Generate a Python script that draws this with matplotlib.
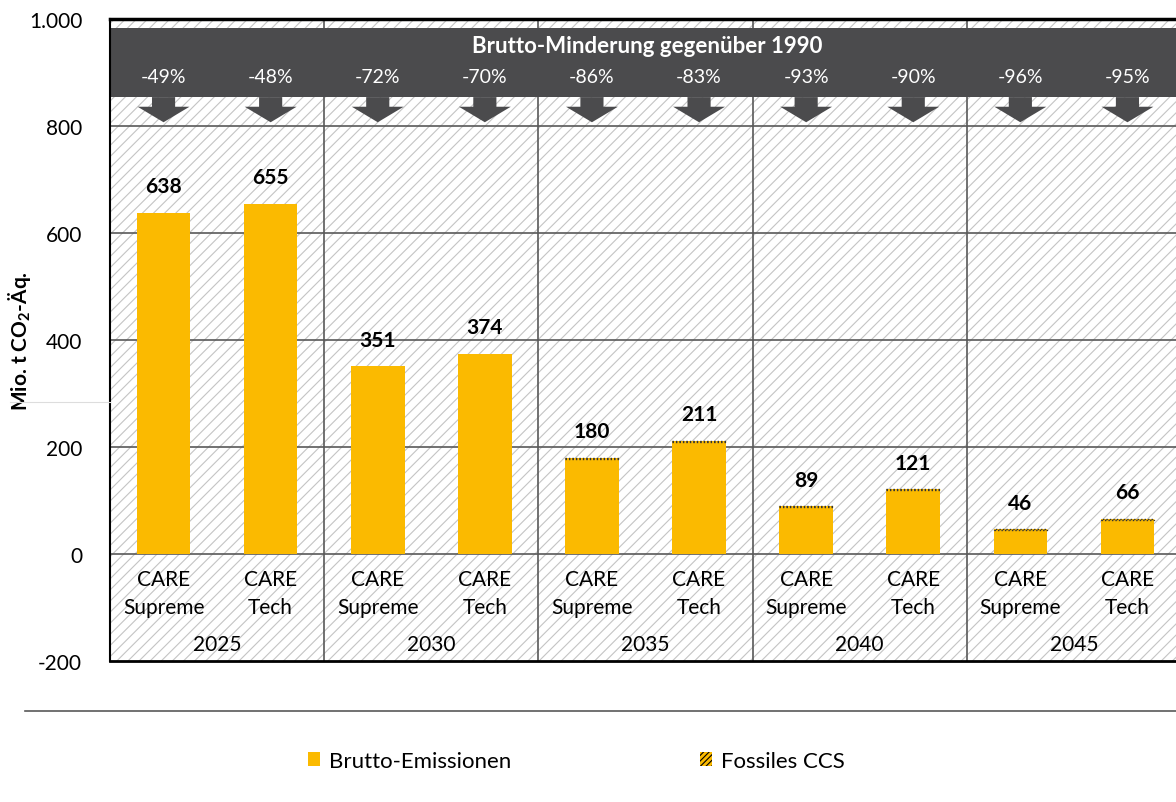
import matplotlib.pyplot as plt
from matplotlib.patches import Rectangle, Polygon, Patch
from matplotlib.lines import Line2D

plt.rcParams['font.family'] = ['Lato', 'DejaVu Sans']
plt.rcParams['hatch.linewidth'] = 0.8

# Daten
years = ["2025", "2030", "2035", "2040", "2045"]
scenarios = ["CARE\nSupreme", "CARE\nTech"]
brutto_supreme = [638, 351, 180, 89, 46]
brutto_tech = [655, 374, 211, 121, 66]
ccs_supreme = [0, 0, 2, 2, 2]
ccs_tech = [0, 0, 2, 2, 2]
minderung_supreme = ["-49%", "-72%", "-86%", "-93%", "-96%"]
minderung_tech = ["-48%", "-70%", "-83%", "-90%", "-95%"]

orange = '#FBBA00'
dunkel = '#4B4B4D'
gitter = '#595959'

fig = plt.figure(figsize=(11.76, 8.03), dpi=100)
ax = fig.add_axes([110 / 1176, 141 / 803, 1066 / 1176, 642 / 803])
xmax = 1066 / 214.2
ax.set_xlim(0, xmax)
ax.set_ylim(-200, 1000)

# Schraffierter Hintergrund
ax.add_patch(Rectangle((0, 0), 1, 1, transform=ax.transAxes, facecolor='white',
                       edgecolor='#c4c4c4', hatch='///', linewidth=0, zorder=0))

# Gitterlinien
for yv in [0, 200, 400, 600, 800]:
    ax.axhline(yv, color=gitter, lw=1.2, zorder=1)
for g in range(1, len(years)):
    ax.axvline(g, color=gitter, lw=1.2, zorder=1)

bw = 0.25
for g, year in enumerate(years):
    xs = [g + 0.25, g + 0.75]
    werte = [brutto_supreme[g], brutto_tech[g]]
    ccs = [ccs_supreme[g], ccs_tech[g]]
    mind = [minderung_supreme[g], minderung_tech[g]]
    ax.bar(xs, werte, width=bw, color=orange, zorder=2)
    for x, v, c, m, s in zip(xs, werte, ccs, mind, scenarios):
        if c > 0:
            ax.bar(x, c, bottom=v - c, width=bw, facecolor=orange, edgecolor='#333333',
                   linestyle=(0, (1, 1.5)), linewidth=1, zorder=3)
        ax.annotate(str(v), (x, v), xytext=(0, 12), textcoords='offset points',
                    ha='center', va='bottom', fontsize=15, fontweight='bold')
        ax.text(x, -73, s, ha='center', va='center', fontsize=15, linespacing=1.45)
        # Pfeil
        ax.add_patch(Polygon([(x - 0.054, 854), (x + 0.054, 854), (x + 0.054, 836),
                              (x + 0.121, 836), (x, 807), (x - 0.121, 836),
                              (x - 0.054, 836)], closed=True, facecolor=dunkel,
                             edgecolor='none', zorder=5))
        ax.text(x, 893, m, ha='center', va='center', color='white', fontsize=14, zorder=6)
    ax.text(g + 0.5, -168, year, ha='center', va='center', fontsize=15)

# Banner
ax.add_patch(Rectangle((0, 854), xmax, 129, facecolor=dunkel, edgecolor='none', zorder=4))
ax.text(xmax / 2 + 0.02, 950, "Brutto-Minderung gegenüber 1990", ha='center', va='center',
        color='white', fontsize=16, fontweight='bold', zorder=6)

# Achsen
ax.set_xticks([])
ax.set_yticks(range(-200, 1001, 200))
ax.set_yticklabels([f"{v:,}".replace(",", ".") for v in range(-200, 1001, 200)], fontsize=15)
ax.tick_params(axis='y', length=0, pad=20)
ax.spines['right'].set_visible(False)
ax.spines['top'].set_linewidth(2.5)
ax.spines['left'].set_linewidth(1.5)
ax.spines['bottom'].set_linewidth(2)
for sp in ['top', 'left', 'bottom']:
    ax.spines[sp].set_zorder(7)
ax.set_ylabel("Mio. t CO$_\\mathregular{2}$-Äq.", fontsize=15, fontweight='bold')
ax.yaxis.set_label_coords(-0.072, 0.5)

# Linien unter dem Diagramm
fig.add_artist(Line2D([25 / 1176, 1], [1 - 712 / 803] * 2, color=gitter, lw=1.2))
fig.add_artist(Line2D([10 / 1176, 110 / 1176], [1 - 403 / 803] * 2, color='#dddddd', lw=0.8))

# Legende
handles = [Patch(facecolor=orange, edgecolor='none'),
           Patch(facecolor=orange, edgecolor='black', hatch='//////', linewidth=0)]
fig.legend(handles, ["Brutto-Emissionen", "Fossiles CCS"], loc='center',
           bbox_to_anchor=(0.49, 1 - 762 / 803), ncol=2, frameon=False, fontsize=16,
           handlelength=0.55, handleheight=0.55, handletextpad=0.4, columnspacing=8.5)

plt.savefig('out.png', dpi=100)
